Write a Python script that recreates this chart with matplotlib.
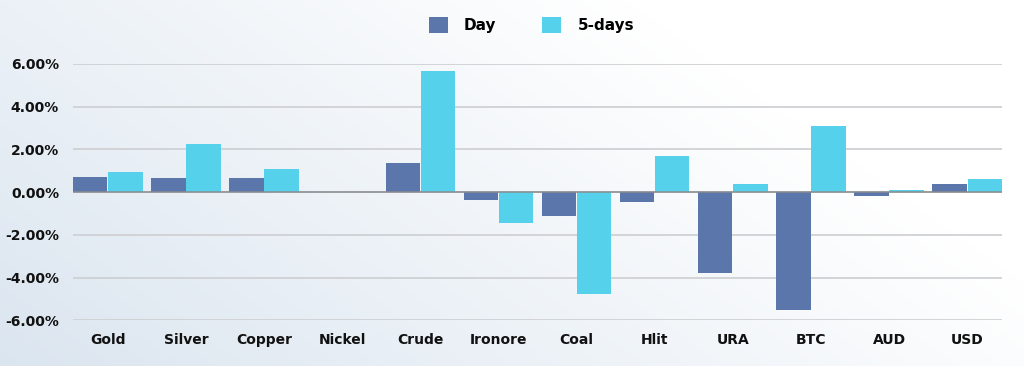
import numpy as np
import matplotlib.pyplot as plt

categories = ['Gold', 'Silver', 'Copper', 'Nickel', 'Crude', 'Ironore',
              'Coal', 'Hlit', 'URA', 'BTC', 'AUD', 'USD']
day = [0.70, 0.68, 0.64, 0.0, 1.36, -0.36, -1.14, -0.47, -3.79, -5.53, -0.17, 0.39]
five_days = [0.96, 2.24, 1.09, 0.0, 5.68, -1.43, -4.77, 1.71, 0.39, 3.10, 0.12, 0.62]
yticks = [-6, -4, -2, 0, 2, 4, 6]

c_day = '#5a76ab'
c_5d = '#55d1eb'
font = 'DejaVu Sans'

fig = plt.figure(figsize=(10.24, 3.66), dpi=100)

# background gradient (light blue-grey on the left fading to white on the right)
bg = fig.add_axes([0, 0, 1, 1])
yy, xx = np.mgrid[0:1:200j, 0:1:400j]
t = np.clip(0.9 * xx + 0.45 * yy, 0, 1)
c0 = np.array([0.86, 0.90, 0.94])
c1 = np.array([1.0, 1.0, 1.0])
img = c0[None, None, :] * (1 - t[..., None]) + c1[None, None, :] * t[..., None]
bg.imshow(img, origin='lower', aspect='auto', extent=[0, 1, 0, 1])
bg.axis('off')

ax = fig.add_axes([0.0713, 0.1249, 0.9072, 0.7003])
ax.patch.set_alpha(0)
x = np.arange(len(categories))
w = 0.44
ax.bar(x - 0.225, day, w, color=c_day, zorder=3, label='Day')
ax.bar(x + 0.225, five_days, w, color=c_5d, zorder=3, label='5-days')

ax.set_xlim(-0.445, len(categories) - 1 + 0.445)
ax.set_ylim(-6, 6)
ax.set_yticks(yticks)
ax.set_yticklabels(['%.2f%%' % v for v in yticks])
ax.set_xticks(x)
ax.set_xticklabels(categories)
for lab in ax.get_xticklabels() + ax.get_yticklabels():
    lab.set_fontfamily(font)
    lab.set_fontweight('bold')
    lab.set_fontsize(10)
    lab.set_color('#111111')
ax.tick_params(axis='both', length=0)
ax.tick_params(axis='y', pad=10)
ax.tick_params(axis='x', pad=9)
ax.grid(axis='y', color='#cfd1d4', linewidth=1.3, zorder=0)
ax.axhline(0, color='#8a8c8f', linewidth=1.1, zorder=4)
for s in ax.spines.values():
    s.set_visible(False)

leg = fig.legend(loc='center', bbox_to_anchor=(0.519, 0.932), ncol=2, frameon=False,
                 handlelength=1.25, handleheight=1.25, columnspacing=3.0, handletextpad=1.05,
                 prop={'family': font, 'weight': 'bold', 'size': 11})

plt.savefig('out.png', dpi=100)
